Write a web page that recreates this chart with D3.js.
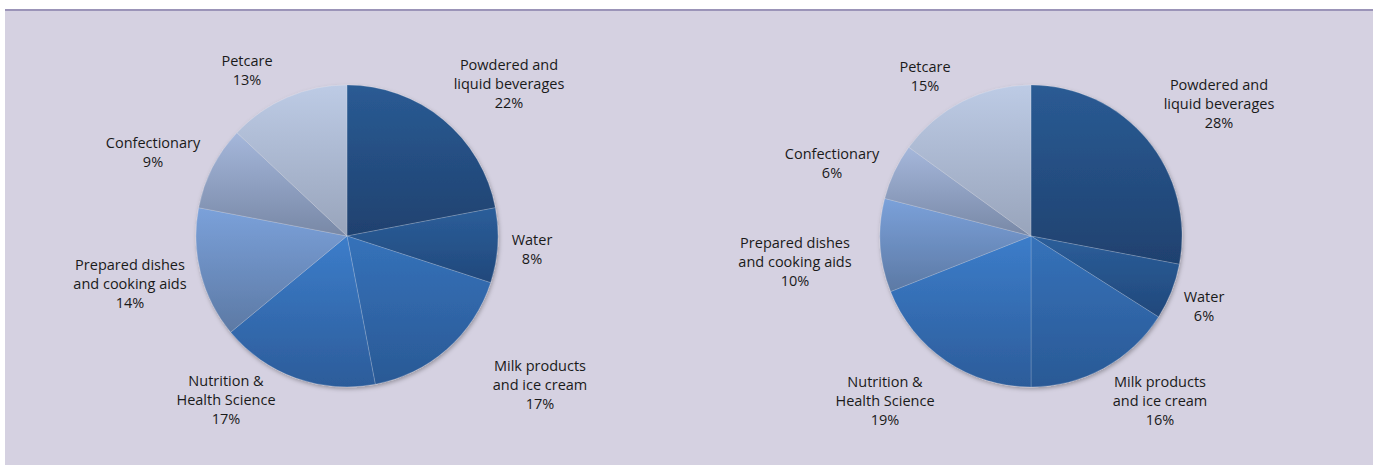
<!DOCTYPE html>
<html>
<head>
<meta charset="utf-8">
<script src="https://cdn.jsdelivr.net/npm/d3@7/dist/d3.min.js"></script>
<style>
  html, body { margin: 0; padding: 0; background: #ffffff; }
  svg { display: block; }
</style>
</head>
<body>
<svg id="chart" width="1378" height="465"></svg>
<script>
// ---- DATA ----
const categories = [
  "Powdered and\nliquid beverages",
  "Water",
  "Milk products\nand ice cream",
  "Nutrition &\nHealth Science",
  "Prepared dishes\nand cooking aids",
  "Confectionary",
  "Petcare"
];
const leftValues  = [22, 8, 17, 17, 14, 9, 13];
const rightValues = [28, 6, 16, 19, 10, 6, 15];

// ---- STYLE / LAYOUT ----
const colorTop    = ["#2a5b94", "#2b5e9a", "#3572ba", "#3c7dca", "#7ba1da", "#a5b7db", "#bdcbe5"];
const colorBottom = ["#1f416f", "#21487b", "#2a5995", "#2c5c9a", "#5c79a4", "#7888a6", "#98a4bb"];
// label block centres relative to the pie centre (px)
const leftLabelOffsets  = [[162,-152.5],[185,13.5],[193,149],[-121,163.5],[-217,48],[-194,-83.5],[-100,-165.5]];
const rightLabelOffsets = [[188,-132],[173,70.5],[129,165],[-146,165],[-236,26],[-199,-72.5],[-106,-159.5]];

const W = 1378, H = 465;
const svg = d3.select("#chart");

// panel
svg.append("rect").attr("x", 5).attr("y", 9).attr("width", 1368).attr("height", H - 9)
  .attr("fill", "#d5d1e1");
svg.append("rect").attr("x", 5).attr("y", 9).attr("width", 1368).attr("height", 2)
  .attr("fill", "#9b94b8");

const defs = svg.append("defs");
colorTop.forEach((c, i) => {
  const g = defs.append("linearGradient").attr("id", "grad" + i)
    .attr("x1", 0).attr("y1", 0).attr("x2", 0).attr("y2", 1);
  g.append("stop").attr("offset", "0%").attr("stop-color", c);
  g.append("stop").attr("offset", "100%").attr("stop-color", colorBottom[i]);
});
const f = defs.append("filter").attr("id", "shadow")
  .attr("x", "-10%").attr("y", "-10%").attr("width", "120%").attr("height", "120%");
f.append("feDropShadow").attr("dx", 1).attr("dy", 2).attr("stdDeviation", 2)
  .attr("flood-color", "#000").attr("flood-opacity", 0.3);

const radius = 151;
const pie = d3.pie().sort(null).value(d => d.value);
const arc = d3.arc().innerRadius(0).outerRadius(radius);

function drawPie(cx, cy, values, offsets) {
  const data = values.map((v, i) => ({ name: categories[i], value: v, i }));
  const g = svg.append("g").attr("transform", `translate(${cx},${cy})`);
  const slices = g.append("g").attr("filter", "url(#shadow)");
  slices.selectAll("path").data(pie(data)).join("path")
    .attr("d", arc)
    .attr("fill", d => `url(#grad${d.data.i})`)
    .attr("stroke", "rgba(255,255,255,0.22)")
    .attr("stroke-width", 0.8);

  const lineH = 19;
  const labels = g.selectAll("text.lbl").data(pie(data)).join("text")
    .attr("class", "lbl")
    .attr("text-anchor", "middle")
    .attr("font-family", "'Open Sans', Lato, sans-serif")
    .attr("font-size", 14.5)
    .attr("fill", "#1a1a1a");
  labels.each(function(d) {
    const lines = d.data.name.split("\n").concat([d.data.value + "%"]);
    const [ox, oy] = offsets[d.data.i];
    const y0 = oy - (lines.length - 1) * lineH / 2;
    d3.select(this).selectAll("tspan").data(lines).join("tspan")
      .attr("x", ox)
      .attr("y", (l, k) => y0 + k * lineH)
      .attr("dy", "0.35em")
      .text(l => l);
  });
}

drawPie(347, 236, leftValues, leftLabelOffsets);
drawPie(1031, 236, rightValues, rightLabelOffsets);
</script>
</body>
</html>
